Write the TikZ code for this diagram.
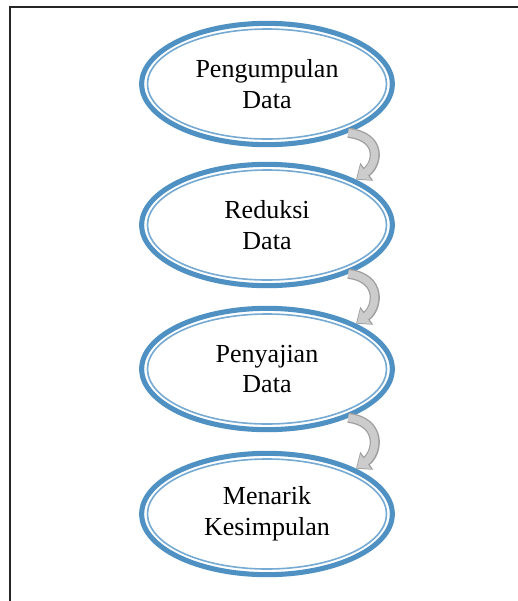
\documentclass[tikz,border=0pt]{standalone}
\usepackage{fontspec}
\setmainfont{Liberation Serif}
\usetikzlibrary{shapes.geometric}
\usetikzlibrary{arrows.meta}

\definecolor{ringblue}{RGB}{78,145,194}
\definecolor{ringlight}{RGB}{118,170,210}

\tikzset{
  stage/.style={ellipse, draw=ringblue, line width=3.8pt, fill=white,
    minimum width=188pt, minimum height=91pt, inner sep=0pt,
    align=center, font=\fontsize{19.5}{23}\selectfont},
  innerring/.style={draw=ringlight, line width=1.2pt},
  flowshade/.style={line width=7.6pt, draw=gray!75, -{Triangle[length=10pt,width=16pt]}},
  flow/.style={line width=5.6pt, draw=gray!40, -{Triangle[length=8pt,width=13pt]}, shorten >=1pt}
}

\begin{document}
\begin{tikzpicture}[x=0.75pt, y=-0.75pt]
\useasboundingbox (0,0) rectangle (518,601);
\draw[gray!30!black, line width=1.2pt] (10,601) -- (10,7) -- (518,7);

\node[stage] (s1) at (267,84) {Pengumpulan\\Data};
\node[stage] (s2) at (267,225) {Reduksi\\Data};
\node[stage] (s3) at (267,369) {Penyajian\\Data};
\node[stage] (s4) at (267,514) {Menarik\\Kesimpulan};

\foreach \s in {s1, s2, s3, s4}
  \draw[innerring] (\s.center) ellipse [x radius=119.5, y radius=55];

\foreach \a/\b in {s1/s2, s2/s3, s3/s4} {
  \draw[flowshade] (\a.-31) .. controls +(34,4) and +(22,-16) .. (\b.27);
  \draw[flow] (\a.-31) .. controls +(34,4) and +(22,-16) .. (\b.27);
}
\end{tikzpicture}
\end{document}
